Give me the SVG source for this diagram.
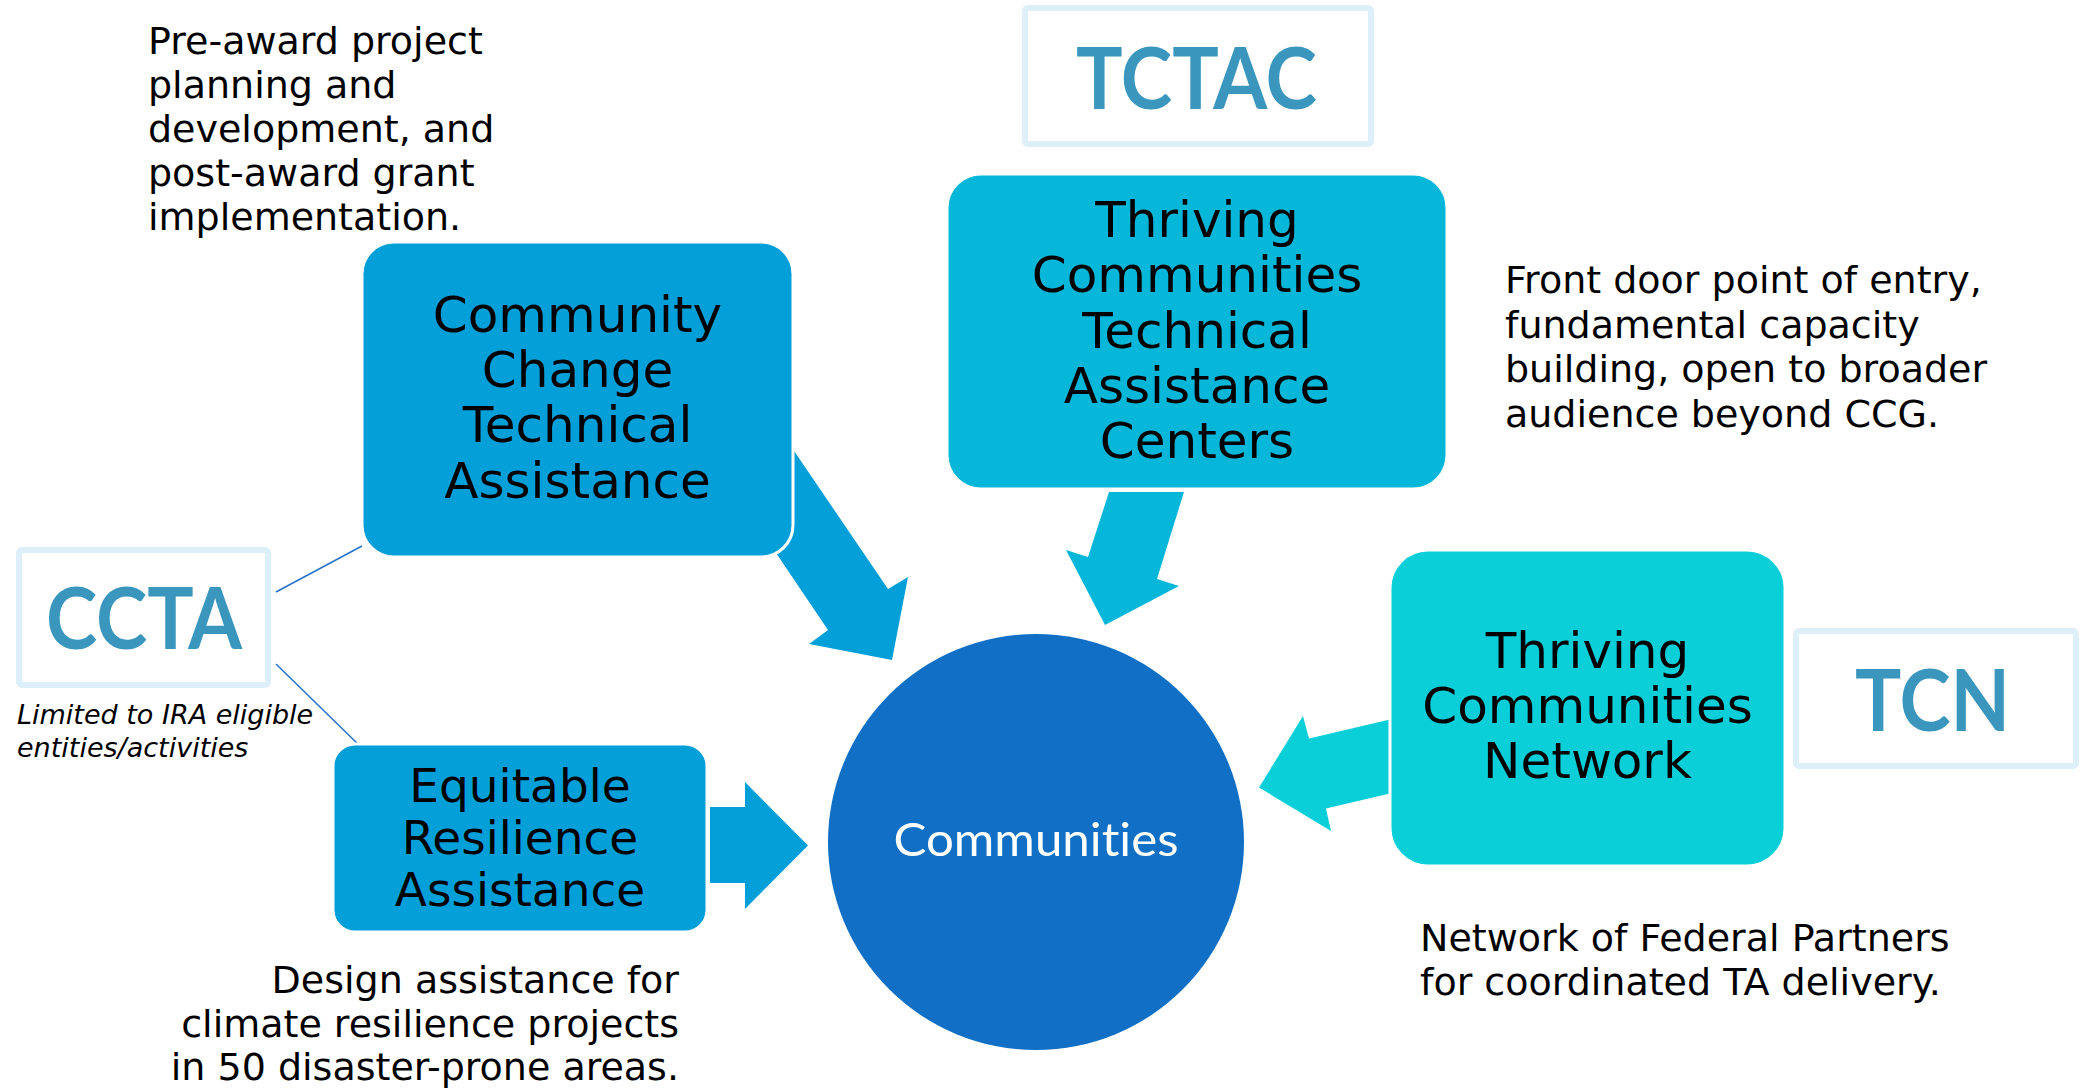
<svg xmlns="http://www.w3.org/2000/svg" width="2080" height="1089" viewBox="0 0 2080 1089">
<style>
.box-txt{font-family:"DejaVu Sans",Verdana,sans-serif;font-size:50px;fill:#000;text-anchor:middle}
.era-txt{font-family:"DejaVu Sans",Verdana,sans-serif;font-size:47px;fill:#000;text-anchor:middle}
.note{font-family:"DejaVu Sans",Verdana,sans-serif;font-size:38px;fill:#000}
.italic{font-family:"DejaVu Sans",Verdana,sans-serif;font-size:27px;font-style:italic;fill:#000}
.label-box{fill:#fff;stroke:#DDEFF8;stroke-width:6}
.label-txt{font-family:Lato,"Open Sans",sans-serif;font-weight:bold;font-size:86px;fill:#3A96BD;text-anchor:middle;font-variant-ligatures:none}
.node-box{stroke:#fff;stroke-width:3}
.link{stroke:#2672C8;stroke-width:1.5;fill:none}
</style>
<rect width="2080" height="1089" fill="#fff"/>
<g id="connectors">
  <polygon id="arrow-ccta" points="735,364 888,589 908,577 892,660 809,644 828,630 718,467" fill="#039FD9"/>
  <polygon id="arrow-tctac" points="1109,492 1184,492 1157,579 1179,586 1105,625 1066,550 1088,557" fill="#06B7D9"/>
  <polygon id="arrow-tcn" points="1392,719 1309,738.5 1303,716 1259,787.5 1331,831 1326,808.5 1392,793" fill="#0ACFD8"/>
  <polygon id="arrow-era" points="710,807 745,807 745,782 808,845.5 745,909 745,883 710,883" fill="#039FD9"/>
  <line class="link" x1="276" y1="592" x2="362" y2="546"/>
  <line class="link" x1="276" y1="664" x2="362" y2="748"/>
</g>
<g id="node-ccta">
  <rect class="node-box" x="362" y="242" width="431" height="315" rx="32" fill="#039FD9"/>
  <text class="box-txt" x="577.5" y="332">Community</text>
  <text class="box-txt" x="577.5" y="387">Change</text>
  <text class="box-txt" x="577.5" y="442">Technical</text>
  <text class="box-txt" x="577.5" y="498">Assistance</text>
</g>
<g id="node-tctac">
  <rect class="node-box" x="947" y="174" width="500" height="315" rx="34" fill="#06B7D9"/>
  <text class="box-txt" x="1197" y="237">Thriving</text>
  <text class="box-txt" x="1197" y="292.3">Communities</text>
  <text class="box-txt" x="1197" y="347.6">Technical</text>
  <text class="box-txt" x="1197" y="402.9">Assistance</text>
  <text class="box-txt" x="1197" y="458.2">Centers</text>
</g>
<g id="node-tcn">
  <rect class="node-box" x="1390" y="550" width="395" height="316" rx="38" fill="#0ACFD8"/>
  <text class="box-txt" x="1587.5" y="667.5">Thriving</text>
  <text class="box-txt" x="1587.5" y="723">Communities</text>
  <text class="box-txt" x="1587.5" y="778">Network</text>
</g>
<g id="node-era">
  <rect class="node-box" x="333" y="744" width="374" height="188" rx="22" fill="#039FD9"/>
  <text class="era-txt" x="520" y="802">Equitable</text>
  <text class="era-txt" x="520" y="854">Resilience</text>
  <text class="era-txt" x="520" y="906">Assistance</text>
</g>
<g id="node-communities">
  <circle cx="1036" cy="842" r="208" fill="#1170C5"/>
  <text x="1036" y="856" font-family="Lato,'Open Sans',sans-serif" font-size="47" fill="#fff" text-anchor="middle" style="font-variant-ligatures:none" textLength="285" lengthAdjust="spacingAndGlyphs">Communities</text>
</g>
<g id="label-ccta">
  <rect class="label-box" x="19" y="550" width="249" height="135" rx="3"/>
  <text class="label-txt" x="144" y="649" textLength="196" lengthAdjust="spacingAndGlyphs">CCTA</text>
  <text class="italic" x="17" y="724">Limited to IRA eligible</text>
  <text class="italic" x="17" y="757">entities/activities</text>
</g>
<g id="label-tctac">
  <rect class="label-box" x="1025" y="8" width="346" height="136" rx="3"/>
  <text class="label-txt" x="1196.5" y="109" textLength="241" lengthAdjust="spacingAndGlyphs">TCTAC</text>
</g>
<g id="label-tcn">
  <rect class="label-box" x="1796" y="631" width="280" height="135" rx="3"/>
  <text class="label-txt" x="1932.5" y="731" textLength="155" lengthAdjust="spacingAndGlyphs">TCN</text>
</g>
<g id="note-ccta">
  <text class="note" x="148" y="53.6">Pre-award project</text>
  <text class="note" x="148" y="98">planning and</text>
  <text class="note" x="148" y="142">development, and</text>
  <text class="note" x="148" y="186">post-award grant</text>
  <text class="note" x="148" y="230">implementation.</text>
</g>
<g id="note-tctac">
  <text class="note" x="1505" y="293">Front door point of entry,</text>
  <text class="note" x="1505" y="337.5">fundamental capacity</text>
  <text class="note" x="1505" y="382">building, open to broader</text>
  <text class="note" x="1505" y="426.5">audience beyond CCG.</text>
</g>
<g id="note-tcn">
  <text class="note" x="1420" y="951">Network of Federal Partners</text>
  <text class="note" x="1420" y="995">for coordinated TA delivery.</text>
</g>
<g id="note-era">
  <text class="note" x="679" y="993" text-anchor="end">Design assistance for</text>
  <text class="note" x="679" y="1037" text-anchor="end">climate resilience projects</text>
  <text class="note" x="679" y="1080" text-anchor="end">in 50 disaster-prone areas.</text>
</g>
</svg>
